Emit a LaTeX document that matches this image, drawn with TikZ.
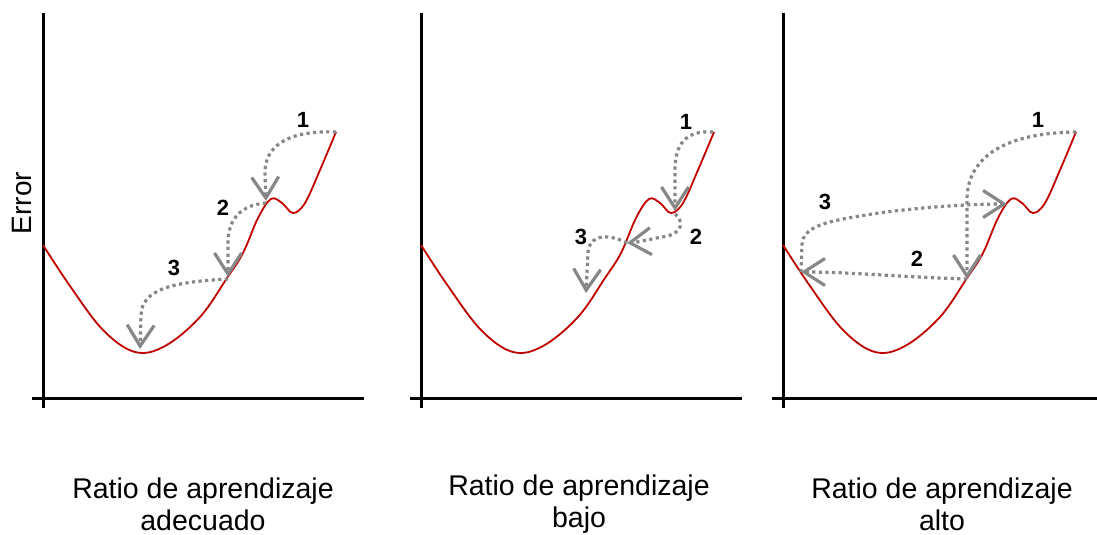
\documentclass[tikz,border=0pt]{standalone}
\usepackage{fontspec}
\setmainfont{Liberation Sans}
\usetikzlibrary{arrows.meta}
\definecolor{curvered}{HTML}{C00000}
\definecolor{arrowgray}{HTML}{878787}
\tikzset{
  axisline/.style={line width=3pt, black},
  curve/.style={curvered, line width=1.8pt},
  gdots/.style={draw=arrowgray, line width=3.2pt, dash pattern=on 3.2pt off 3.4pt,
     -{Straight Barb[length=21pt,width=27pt,line width=3.2pt]}},
  numlab/.style={font=\fontsize{22}{24}\selectfont\bfseries, inner sep=0pt},
  title/.style={font=\fontsize{28.5}{32}\selectfont, align=center, inner sep=0pt},
  errcurve/.pic={
    \draw[curve] plot[smooth, tension=0.6] coordinates {(43,245) (70,286) (103,330) (135,352) (165,346) (200,317) (227,278) (243,253) (258,218) (271,199) (282,203) (293,213) (305,203) (320,170) (336,132)};
  }
}
\begin{document}
\begin{tikzpicture}[x=1pt,y=-1pt]
\useasboundingbox (0,0) rectangle (1097,535);
% axes
\draw[axisline] (43,13) -- (43,408);
\draw[axisline] (32,398) -- (364,398);
\draw[axisline] (421,13) -- (421,408);
\draw[axisline] (410,398) -- (742,398);
\draw[axisline] (783,13) -- (783,408);
\draw[axisline] (772,398) -- (1097,398);
% curves
\pic at (0,0) {errcurve};
\pic at (378,0) {errcurve};
\pic at (740,0) {errcurve};
% panel 1
\coordinate (a0) at (336,132);
\coordinate (a1) at (266,201);
\coordinate (a2) at (228,277);
\coordinate (a3) at (140,349);
\draw[gdots] (a0) .. controls (285,130) and (265,148) .. (265,172) -- (a1);
\draw[gdots] ([yshift=-2pt]a1) .. controls (240,205) and (229,220) .. (228,240) -- (a2);
\draw[gdots] ([yshift=-2pt]a2) .. controls (170,282) and (142,290) .. (141,315) -- (a3);
\node[numlab] (n11) at (303,120) {1};
\node[numlab] (n12) at (223,208) {2};
\node[numlab] (n13) at (174,268) {3};
% panel 2
\coordinate (b0) at (713,132);
\coordinate (b1) at (675,211);
\coordinate (b2) at (627,243);
\coordinate (b3) at (586,293);
\draw[gdots] (b0) .. controls (685,130) and (675,145) .. (675,170) -- (b1);
\draw[gdots] ([yshift=-3pt]b1) .. controls (683,220) and (685,234) .. (662,237) .. controls (650,239) and (640,242) .. (b2);
\draw[gdots] (b2) .. controls (612,235) and (590,232) .. (588,252) -- (b3);
\node[numlab] (n21) at (686,122) {1};
\node[numlab] (n22) at (696,237) {2};
\node[numlab] (n23) at (581,237) {3};
% panel 3
\coordinate (c0) at (1076,132);
\coordinate (c1) at (967,279);
\coordinate (c2) at (801,272);
\coordinate (c3) at (1007,204);
\draw[gdots] (c0) .. controls (1000,133) and (967,160) .. (967,200) -- (c1);
\draw[gdots] (c1) .. controls (900,277) and (850,272) .. (c2);
\draw[gdots] (c2) -- (802,245) .. controls (802,226) and (830,221) .. (860,216) .. controls (900,209) and (960,204) .. (c3);
\node[numlab] (n31) at (1038,120) {1};
\node[numlab] (n32) at (917,259) {2};
\node[numlab] (n33) at (825,202) {3};
% texts
\node[font=\fontsize{28}{32}\selectfont, rotate=90, inner sep=0pt] (err) at (22,203) {Error};
\node[title] (t1) at (203,504) {Ratio de aprendizaje\\adecuado};
\node[title] (t2) at (579,504) {Ratio de aprendizaje\\bajo};
\node[title] (t3) at (942,504) {Ratio de aprendizaje\\alto};
\end{tikzpicture}
\end{document}
